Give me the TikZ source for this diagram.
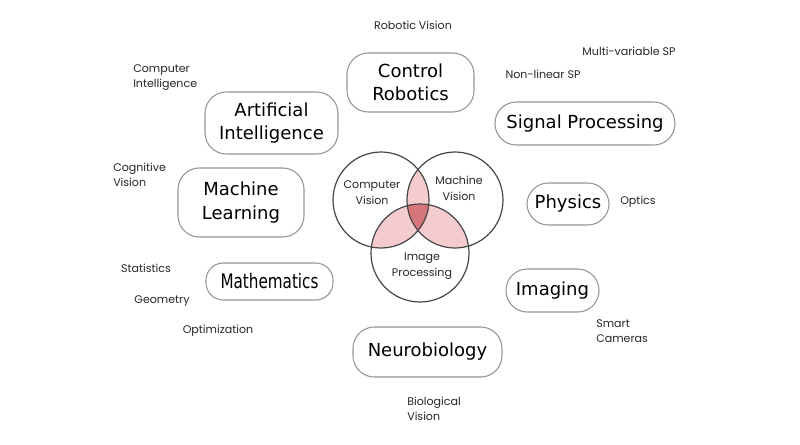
\documentclass[tikz,border=0pt]{standalone}
\usepackage{fontspec}
\setmainfont{DejaVu Sans}
\newfontfamily\smallfont{Poppins}
\newfontfamily\condfont{DejaVu Sans}[FakeStretch=0.76]
\definecolor{pinkfill}{RGB}{244,204,206}
\definecolor{darkfill}{RGB}{214,118,122}
\definecolor{boxline}{RGB}{150,150,150}
\definecolor{circline}{RGB}{70,70,70}
\definecolor{labeltext}{RGB}{40,40,40}
\begin{document}
\begin{tikzpicture}[x=0.75pt,y=-0.75pt,
  topic/.style={draw=boxline,line width=0.8pt,rounded corners=16pt,inner sep=0pt,
    align=center,font=\fontsize{13.5}{17.5}\selectfont,text=black},
  sub/.style={inner sep=0pt,font=\smallfont\fontsize{8.3}{11.3}\selectfont,text=labeltext},
  subl/.style={sub,align=left,anchor=west},
  venn/.style={inner sep=0pt,align=center,font=\smallfont\fontsize{8.3}{12}\selectfont,text=labeltext},
  vcirc/.style={draw=circline,line width=0.9pt}]
\useasboundingbox (0,0) rectangle (800,444);
\fill[white] (0,0) rectangle (800,444);
% Venn fills
\begin{scope}
  \clip (381,200) circle (48);
  \fill[pinkfill] (455,200) circle (48);
  \fill[pinkfill] (420,253) circle (49);
\end{scope}
\begin{scope}
  \clip (455,200) circle (48);
  \fill[pinkfill] (420,253) circle (49);
\end{scope}
\begin{scope}
  \clip (381,200) circle (48);
  \clip (455,200) circle (48);
  \fill[darkfill] (420,253) circle (49);
\end{scope}
\node[vcirc,circle,minimum size=72pt,inner sep=0pt] (cv) at (381,200) {};
\node[vcirc,circle,minimum size=72pt,inner sep=0pt] (mv) at (455,200) {};
\node[vcirc,circle,minimum size=73.5pt,inner sep=0pt] (ip) at (420,253) {};
\node[venn] (cvt) at (372,193) {Computer\\Vision};
\node[venn] (mvt) at (459,188) {Machine\\Vision};
\node[venn] (ipt) at (422,266) {Image\\Processing};
% Topic boxes
\node[topic,minimum width=95.25pt,minimum height=44.25pt] (cr) at (410.5,82.5) {Control\\Robotics};
\node[topic,minimum width=99.75pt,minimum height=46.5pt] (ai) at (271.5,123) {Artificial\\Intelligence};
\node[topic,minimum width=135pt,minimum height=32.25pt] (sp) at (585,123.5) {Signal Processing};
\node[topic,minimum width=94.5pt,minimum height=51.75pt] (ml) at (241,202.5) {Machine\\Learning};
\node[topic,minimum width=61.5pt,minimum height=31.5pt] (ph) at (568,204) {Physics};
\node[topic,minimum width=95.25pt,minimum height=27.75pt,rounded corners=13pt,font=\condfont\fontsize{15}{18}\selectfont] (ma) at (269.5,281.5) {Mathematics};
\node[topic,minimum width=69.75pt,minimum height=32.25pt] (im) at (552.5,290.5) {Imaging};
\node[topic,minimum width=111.75pt,minimum height=37.5pt] (nb) at (427.5,352) {Neurobiology};
% Sub-topic labels
\node[sub] (rv) at (413,25) {Robotic Vision};
\node[sub] (mvsp) at (629,51) {Multi-variable SP};
\node[sub] (nlsp) at (543,74) {Non-linear SP};
\node[subl] (ci) at (133,77.5) {Computer\\Intelligence};
\node[subl] (cgv) at (113,175) {Cognitive\\Vision};
\node[sub] (op) at (638,202) {Optics};
\node[sub] (st) at (146,268) {Statistics};
\node[sub] (ge) at (162,301) {Geometry};
\node[sub] (opt) at (218,331) {Optimization};
\node[subl] (sc) at (596,331.5) {Smart\\Cameras};
\node[subl] (bv) at (407,408.5) {Biological\\Vision};
\end{tikzpicture}
\end{document}
